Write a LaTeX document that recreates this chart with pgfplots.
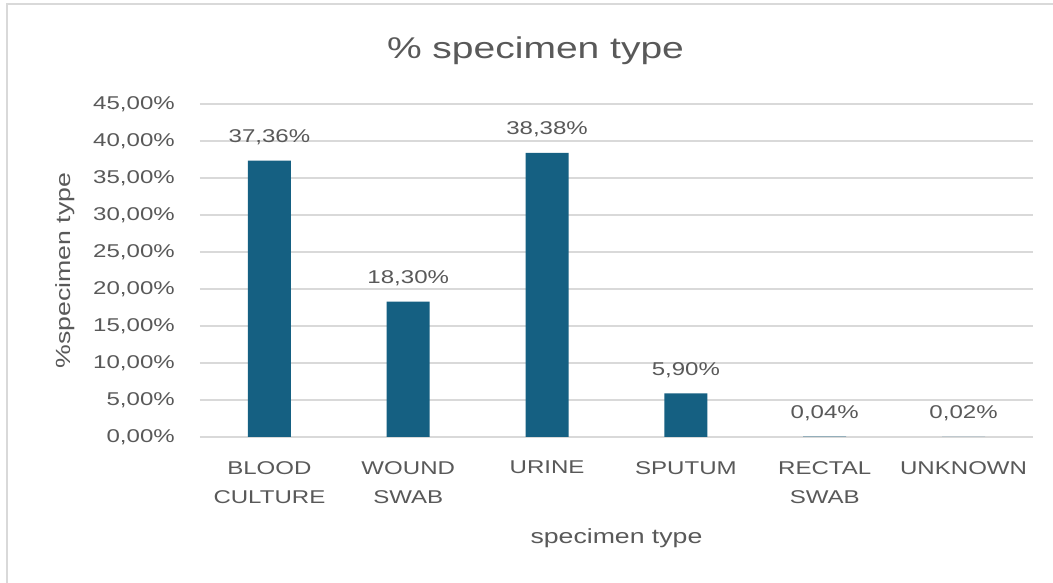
\documentclass[border=0pt]{standalone}
\usepackage{fontspec}
\setmainfont{Liberation Sans}[FakeStretch=1.3]
\usepackage{pgfplots}
\pgfplotsset{compat=1.18}
\definecolor{barblue}{HTML}{156082}
\definecolor{txtgray}{HTML}{595959}
\definecolor{gridgray}{HTML}{D9D9D9}
\begin{document}
\begin{tikzpicture}[x=1pt,y=1pt]
\path[use as bounding box] (0,0) rectangle (1053,583);
\fill[white] (0,0) rectangle (1053,583);
\draw[gridgray, line width=2pt] (7,0) -- (7,578.5) -- (1053,578.5);
\node[anchor=base, text=txtgray, font=\fontsize{30}{36}\selectfont, inner sep=0pt] at (535.5,524) {\% specimen type};
\begin{axis}[
  at={(200pt,146pt)}, anchor=south west,
  width=833pt, height=333pt, scale only axis,
  xmin=-0.5, xmax=5.5, ymin=0, ymax=45,
  ybar, bar width=43pt,
  axis line style={draw=none},
  major tick length=0pt,
  ytick={0,5,...,45},
  ymajorgrids, grid style={gridgray, line width=1.5pt},
  xtick={0,1,2,3,4,5},
  xticklabels={{BLOOD\\CULTURE},{WOUND\\SWAB},{URINE},{SPUTUM},{RECTAL\\SWAB},{UNKNOWN}},
  xticklabel style={anchor=north, align=center, inner sep=0pt, yshift=-24pt, text=txtgray, font=\fontsize{18.5}{29}\selectfont},
  /pgf/number format/assume math mode=true,
  yticklabel={\pgfmathprintnumber[fixed,fixed zerofill,precision=2,use comma]{\tick}\%},
  yticklabel style={anchor=east, inner sep=0pt, xshift=-25pt, text=txtgray, font=\fontsize{18.5}{22}\selectfont},
  xlabel={specimen type},
  xlabel style={at={(axis description cs:0.5,0)}, anchor=base, yshift=-107pt, inner sep=0pt, text=txtgray, font=\fontsize{20.5}{24}\selectfont},
  ylabel={\%specimen type},
  ylabel style={at={(axis description cs:-0.162,0.5)}, anchor=center, inner sep=0pt, text=txtgray, font=\fontsize{20.5}{24}\selectfont},
  nodes near coords={\pgfmathprintnumber[fixed,fixed zerofill,precision=2,use comma]{\pgfplotspointmeta}\%},
  nodes near coords align={anchor=base},
  every node near coord/.append style={anchor=base, yshift=18pt, inner sep=0pt, text=txtgray, font=\fontsize{18.5}{22}\selectfont},
  clip=false,
]
\addplot[fill=barblue, draw=none] coordinates {(0,37.36) (1,18.30) (2,38.38) (3,5.90) (4,0.04) (5,0.02)};
\end{axis}
\end{tikzpicture}
\end{document}
